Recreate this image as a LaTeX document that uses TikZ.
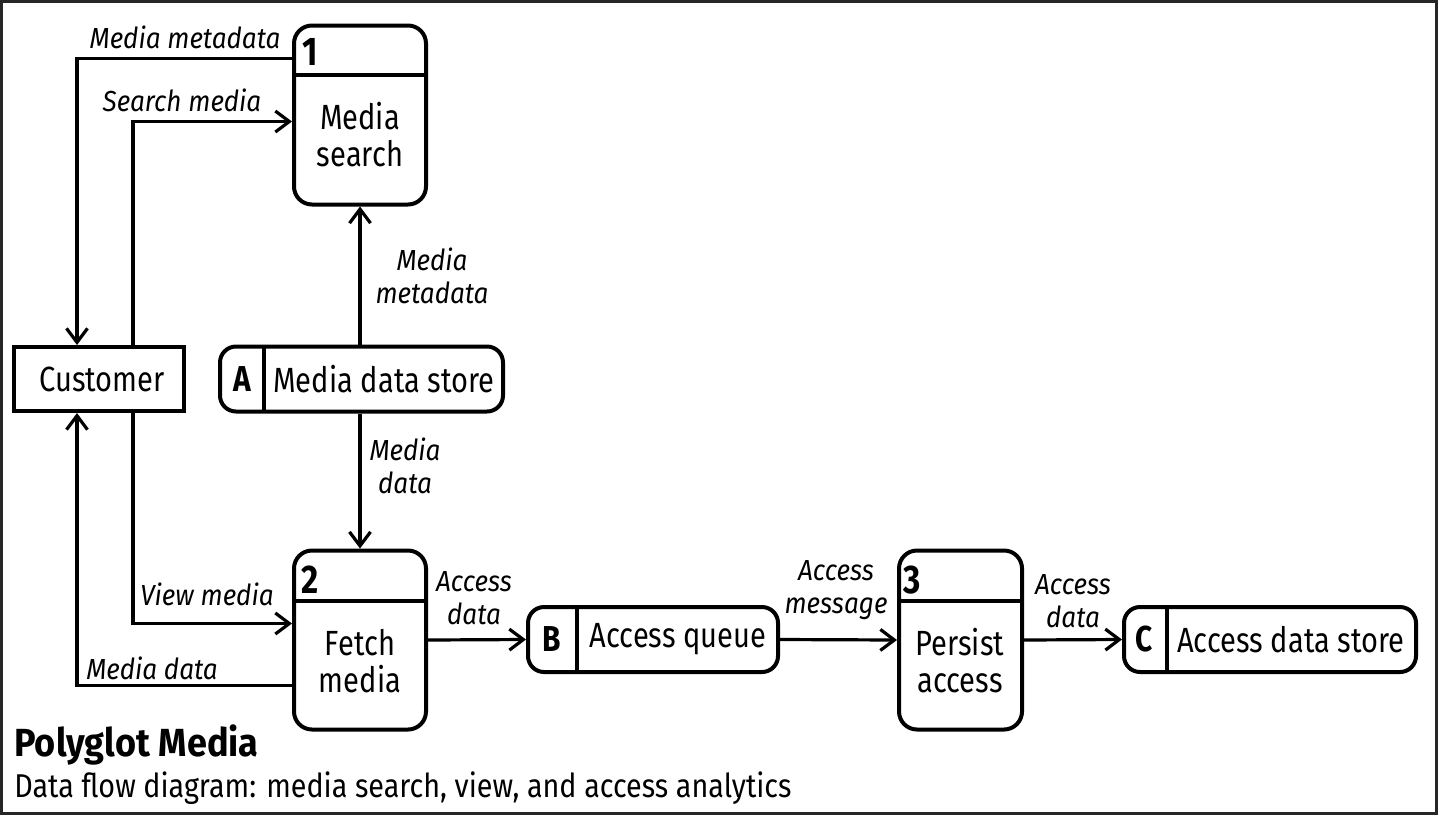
\documentclass[tikz,border=0pt]{standalone}
\usepackage{fontspec}
\setmainfont{Fira Sans}[FakeStretch=0.83]
\newfontfamily\flowfont{Fira Sans}[FakeStretch=0.9]
\newfontfamily\titlefont{Fira Sans}[FakeStretch=0.92]
\newfontfamily\subfont{Fira Sans}[FakeStretch=0.87]
\usetikzlibrary{arrows.meta,calc}

\begin{document}
\begin{tikzpicture}[x=0.5pt,y=-0.5pt,
        process/.style={draw, line width=2pt, rounded corners=9pt, minimum width=66pt, minimum height=89.5pt, inner sep=0pt},
        store/.style={draw, line width=2pt, rounded corners=8pt, minimum height=32.5pt, inner sep=0pt},
        entity/.style={draw, line width=2pt, minimum width=85pt, minimum height=32pt, inner sep=0pt},
        flow/.style={line width=1.6pt, -{Straight Barb[length=7pt, width=10.5pt, line width=1.6pt]}},
        boxtext/.style={font=\fontsize{17.5}{18.5}\selectfont, align=center, inner sep=0pt},
        numtext/.style={font=\fontsize{20}{22}\selectfont\bfseries, inner sep=0pt},
        lettertext/.style={font=\fontsize{18}{20}\selectfont\bfseries, inner sep=0pt},
        flowtext/.style={font=\fontsize{14.5}{16.5}\selectfont\flowfont\itshape, align=center, inner sep=0pt}]
    % Frame
    \draw[line width=1.5pt, black!85] (1.5,1.5) rectangle (1436.5,813.5);

    % External entity
    \node[entity] (cust) at (99,379) {};
    \node[boxtext] (custtxt) at (102,379) {Customer};

    % Processes
    \node[process] (p1) at (360,115) {};
    \draw[line width=2pt] ($(p1.north west)+(0,51)$) -- ($(p1.north east)+(0,51)$);
    \node[numtext, anchor=west] (p1num) at (302,52) {1};
    \node[boxtext] (p1txt) at (360,135) {Media\\search};

    \node[process] (p2) at (360,640) {};
    \draw[line width=2pt] ($(p2.north west)+(0,52)$) -- ($(p2.north east)+(0,52)$);
    \node[numtext, anchor=west] (p2num) at (301,580) {2};
    \node[boxtext] (p2txt) at (360,661) {Fetch\\media};

    \node[process, minimum width=61.5pt] (p3) at (960.5,640) {};
    \draw[line width=2pt] ($(p3.north west)+(0,52)$) -- ($(p3.north east)+(0,52)$);
    \node[numtext, anchor=west] (p3num) at (903,580) {3};
    \node[boxtext] (p3txt) at (960,661) {Persist\\access};

    % Data stores
    \node[store, minimum width=141.5pt] (sA) at (361.5,379) {};
    \draw[line width=1.6pt] (264,347) -- (264,411);
    \node[lettertext] (sAnum) at (242,379) {A};
    \node[boxtext] (sAtxt) at (384,379) {Media data store};

    \node[store, minimum width=125pt] (sB) at (653,639.5) {};
    \draw[line width=1.6pt] (577,607) -- (577,672);
    \node[lettertext] (sBnum) at (552,639.5) {B};
    \node[boxtext] (sBtxt) at (678,639.5) {Access queue};

    \node[store, minimum width=146pt] (sC) at (1270,639.5) {};
    \draw[line width=1.6pt] (1167,607) -- (1167,672);
    \node[lettertext] (sCnum) at (1144,639.5) {C};
    \node[boxtext] (sCtxt) at (1291,639.5) {Access data store};

    % Data flows
    \draw[flow] ($(p1.north west)+(0,35)$) -| ($(cust.north)+(-22,0)$);
    \draw[flow] ($(cust.north)+(34,0)$) |- ($(p1.north west)+(0,98)$);
    \draw[flow] (sA.north -| p1.south) -- (p1.south);
    \draw[flow] (sA.south -| p2.north) -- (p2.north);
    \draw[flow] ($(cust.south)+(34,0)$) |- ($(p2.north west)+(0,75)$);
    \draw[flow] ($(p2.north west)+(0,137)$) -| ($(cust.south)+(-22,0)$);
    \draw[flow] (p2.east) -- (sB.west);
    \draw[flow] (sB.east) -- (p3.west);
    \draw[flow] (p3.east) -- (sC.west);

    % Flow labels
    \node[flowtext] (lmeta) at (185,37) {Media metadata};
    \node[flowtext] (lsearch) at (182,100) {Search media};
    \node[flowtext] (lmeta2) at (432,276) {Media\\metadata};
    \node[flowtext] (ldata) at (405,466) {Media\\data};
    \node[flowtext] (lview) at (207,594) {View media};
    \node[flowtext] (ldata2) at (152,668) {Media data};
    \node[flowtext] (lacc) at (474,598) {Access\\data};
    \node[flowtext] (lmsg) at (836,590) {Access\\message};
    \node[flowtext] (lacc2) at (1073,601) {Access\\data};

    % Title
    \node[font=\fontsize{19.6}{21}\selectfont\titlefont\bfseries, anchor=west, inner sep=0pt] (title) at (14,745) {Polyglot Media};
    \node[font=\fontsize{16.5}{18}\selectfont\subfont, anchor=west, inner sep=0pt] (subtitle) at (14,788) {Data flow diagram: media search, view, and access analytics};
\end{tikzpicture}
\end{document}
